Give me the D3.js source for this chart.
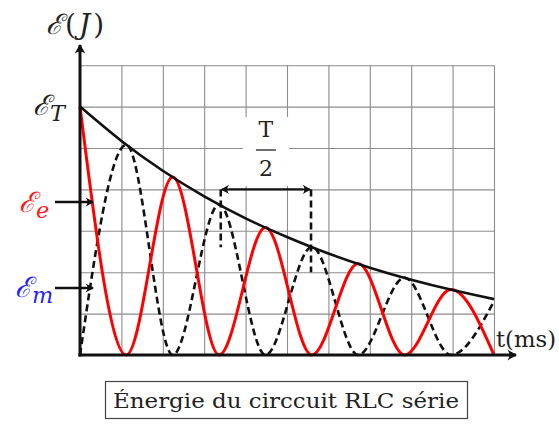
<!DOCTYPE html>
<html>
<head>
<meta charset="utf-8">
<script src="https://cdn.jsdelivr.net/npm/d3@7"></script>
<style>
  html, body { margin: 0; padding: 0; background: #fff; }
  svg { display: block; }
  text { fill: #222; }
</style>
</head>
<body>
<svg id="chart" width="559" height="430"></svg>
<script>
// Time axis (ms) and energy grid extents
const tDomain = [0, 10];
const eDomain = [0, 7];
const totalLevel = 6;          // level of E_T on the energy axis

// Total energy envelope, sampled each ms
const envT = [0, 1, 2, 3, 4, 5, 6, 7, 8, 9, 10];
const envE = [6, 5.17, 4.45, 3.83, 3.30, 2.85, 2.45, 2.11, 1.82, 1.57, 1.35];

// Electric energy: successive maxima / zeros
const elecT = [0, 1.12, 2.24, 3.36, 4.48, 5.60, 6.72, 7.84, 8.96, 10.0];
const elecE = [6, 0, 4.30, 0, 3.08, 0, 2.21, 0, 1.58, 0];

// Magnetic energy: successive zeros / maxima
const magT = [0, 1.12, 2.24, 3.36, 4.48, 5.60, 6.72, 7.84, 8.96, 10.0];
const magE = [0, 5.08, 0, 3.64, 0, 2.61, 0, 1.87, 0, 1.30];

// Half-period marker: between two magnetic maxima
const halfT = [3.40, 5.58];
const halfLevel = 4.0;
const halfDrop = [2.6, 2.0];

const svg = d3.select("#chart");
const x = d3.scaleLinear().domain(tDomain).range([80, 494]);
const y = d3.scaleLinear().domain(eDomain).range([355, 65.2]);

// arrow heads
const defs = svg.append("defs");
function marker(id, size) {
  defs.append("marker")
    .attr("id", id).attr("viewBox", "-10 -6 12 12")
    .attr("refX", 0).attr("refY", 0)
    .attr("markerWidth", size).attr("markerHeight", size)
    .attr("markerUnits", "userSpaceOnUse")
    .attr("orient", "auto")
    .append("path")
    .attr("d", "M1,0 L-8,-5 Q-4,0 -8,5 Z")
    .attr("fill", "#111");
}
marker("ax", 13);
marker("sm", 11);

// grid
const grid = svg.append("g");
grid.append("g")
  .attr("transform", `translate(0,${y(0)})`)
  .call(d3.axisBottom(x).ticks(10).tickSize(-(y(0) - y(7))).tickFormat(""))
  .call(g => g.select(".domain").remove())
  .call(g => g.selectAll("line").attr("stroke", "#8c8c8c").attr("stroke-width", 1.1));
grid.append("g")
  .attr("transform", `translate(${x(0)},0)`)
  .call(d3.axisLeft(y).ticks(7).tickSize(-(x(10) - x(0))).tickFormat(""))
  .call(g => g.select(".domain").remove())
  .call(g => g.selectAll("line").attr("stroke", "#8c8c8c").attr("stroke-width", 1.1));

// curves
const line = d3.line().curve(d3.curveMonotoneX);
const pts = (ts, es) => ts.map((t, i) => [x(t), y(es[i])]);

svg.append("path")
  .attr("d", line(pts(magT, magE)))
  .attr("fill", "none").attr("stroke", "#111")
  .attr("stroke-width", 2.6).attr("stroke-dasharray", "7,4");

svg.append("path")
  .attr("d", line(pts(elecT, elecE)))
  .attr("fill", "none").attr("stroke", "#ff0000")
  .attr("stroke-width", 3);

svg.append("path")
  .attr("d", d3.line().curve(d3.curveNatural)(pts(envT, envE)))
  .attr("fill", "none").attr("stroke", "#111")
  .attr("stroke-width", 2.6);

// T/2 marker
halfT.forEach((t, i) => {
  svg.append("line")
    .attr("x1", x(t)).attr("x2", x(t))
    .attr("y1", y(halfLevel)).attr("y2", y(halfDrop[i]))
    .attr("stroke", "#111").attr("stroke-width", 2.6)
    .attr("stroke-dasharray", "7,4");
});
svg.append("line")
  .attr("x1", x(halfT[0]) + 8).attr("x2", x(halfT[1]) - 1)
  .attr("y1", y(halfLevel)).attr("y2", y(halfLevel))
  .attr("stroke", "#111").attr("stroke-width", 1.8)
  .attr("marker-end", "url(#sm)");
svg.append("line")
  .attr("x1", x(halfT[1]) - 8).attr("x2", x(halfT[0]) + 1)
  .attr("y1", y(halfLevel)).attr("y2", y(halfLevel))
  .attr("stroke", "#111").attr("stroke-width", 1.8)
  .attr("marker-end", "url(#sm)");
const fx = x((halfT[0] + halfT[1]) / 2);
svg.append("rect").attr("x", fx - 23).attr("y", 117).attr("width", 46).attr("height", 69).attr("fill", "#fff");
svg.append("text").attr("x", fx).attr("y", 137)
  .attr("text-anchor", "middle").attr("font-family", "DejaVu Serif")
  .attr("font-size", 22).text("T");
svg.append("line").attr("x1", fx - 10).attr("x2", fx + 10)
  .attr("y1", 150).attr("y2", 150)
  .attr("stroke", "#222").attr("stroke-width", 1.3);
svg.append("text").attr("x", fx).attr("y", 176)
  .attr("text-anchor", "middle").attr("font-family", "DejaVu Serif")
  .attr("font-size", 22).text("2");

// axes
svg.append("line")
  .attr("x1", x(0)).attr("x2", x(0)).attr("y1", y(0) + 1.5).attr("y2", 45)
  .attr("stroke", "#111").attr("stroke-width", 3).attr("marker-end", "url(#ax)");
svg.append("line")
  .attr("x1", x(0) - 1.5).attr("x2", 516).attr("y1", y(0)).attr("y2", y(0))
  .attr("stroke", "#111").attr("stroke-width", 3).attr("marker-end", "url(#ax)");

// pointers to the energy labels
[202, 288].forEach(yy => {
  svg.append("line").attr("x1", 55).attr("x2", 93)
    .attr("y1", yy).attr("y2", yy)
    .attr("stroke", "#111").attr("stroke-width", 2.4)
    .attr("marker-end", "url(#sm)");
});

// labels
const script = (sel, xx, yy, sub, color, size) => {
  const t = sel.append("text").attr("x", xx).attr("y", yy)
    .attr("font-family", "DejaVu Serif").attr("font-size", size)
    .attr("font-style", "italic").style("fill", color);
  t.append("tspan").text("ℰ");
  t.append("tspan").attr("dy", 6).attr("font-size", size * 0.8).text(sub);
  return t;
};
const yTitle = svg.append("text").attr("x", 46).attr("y", 34)
  .attr("font-family", "DejaVu Serif").attr("font-size", 28)
  .style("fill", "#222");
yTitle.append("tspan").attr("font-style", "italic").text("ℰ");
yTitle.append("tspan").attr("dx", 2).text("(");
yTitle.append("tspan").attr("dx", 3).attr("font-style", "italic").text("J");
yTitle.append("tspan").attr("dx", 3).text(")");

script(svg, 33, y(totalLevel) + 8, "T", "#222", 28);
script(svg, 19, 212, "e", "#ff1a1a", 28);
script(svg, 15, 297, "m", "#1f1fff", 28);

svg.append("text").attr("x", 496).attr("y", 347)
  .attr("font-family", "DejaVu Serif").attr("font-size", 22)
  .attr("textLength", 60).attr("lengthAdjust", "spacingAndGlyphs")
  .text("t(ms)");

// caption
svg.append("rect").attr("x", 105.5).attr("y", 381.5).attr("width", 362).attr("height", 37)
  .attr("fill", "#fff").attr("stroke", "#444").attr("stroke-width", 1.2);
svg.append("text").attr("x", 286).attr("y", 408)
  .attr("text-anchor", "middle").attr("font-family", "DejaVu Serif")
  .attr("font-size", 21).attr("textLength", 346).attr("lengthAdjust", "spacingAndGlyphs")
  .text("Énergie du circcuit RLC série");
</script>
</body>
</html>
